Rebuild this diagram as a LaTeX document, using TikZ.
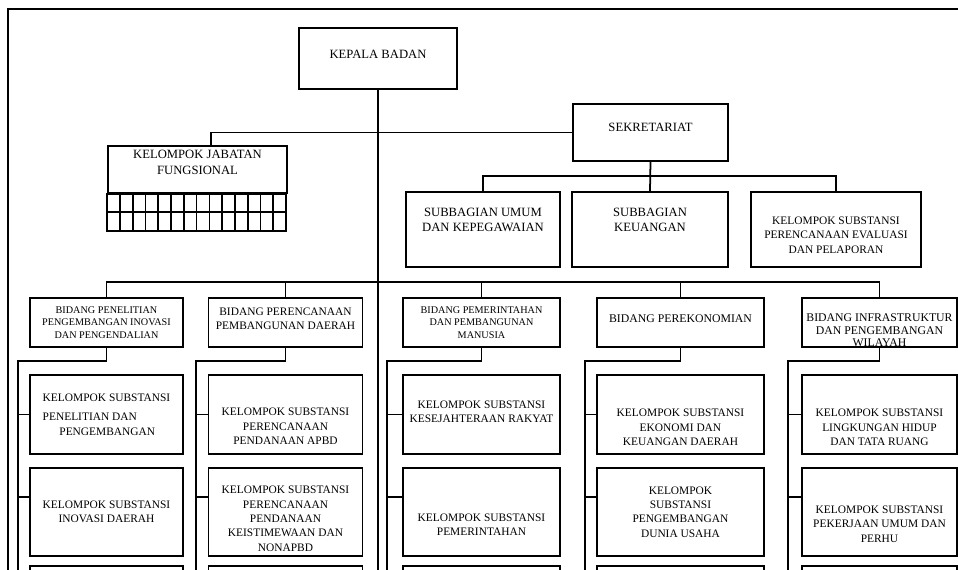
\documentclass[tikz,border=0pt]{standalone}
\usepackage{fontspec}
\setmainfont{Liberation Serif}
\newcommand{\txtdn}[1]{\rule{0pt}{#1pt}}
\newcommand{\txtup}[1]{\rule[-#1pt]{0pt}{0pt}}

\begin{document}
\begin{tikzpicture}[x=0.02cm, y=-0.02cm,
    box/.style={draw, line width=1pt, align=center, inner sep=1pt},
    line/.style={line width=1pt},
    big/.style={font=\fontsize{7.2}{9}\selectfont},
    mid/.style={font=\fontsize{6.5}{8.2}\selectfont},
    small/.style={font=\fontsize{5.8}{7.1}\selectfont}]
    \path[use as bounding box] (0,0) rectangle (958,569);
    \clip (0,0) rectangle (958,569);

    \draw[line] (958,9) -- (8,9) -- (8,575);

    \node[box, big, minimum width=3.16cm, minimum height=1.22cm] (kepala) at (378,58.5) {KEPALA BADAN\txtup{5}};
    \node[box, big, minimum width=3.1cm, minimum height=1.14cm] (sekretariat) at (650.5,132.5) {SEKRETARIAT\txtup{6}};
    \node[box, big, minimum width=3.58cm, minimum height=0.94cm] (jabatan) at (197.5,169.5) {KELOMPOK JABATAN\\FUNGSIONAL\txtup{8}};

    \node[box, big, minimum width=3.08cm, minimum height=1.5cm] (umum) at (483,229.5) {SUBBAGIAN UMUM\\DAN KEPEGAWAIAN\txtup{11}};
    \node[box, big, minimum width=3.12cm, minimum height=1.5cm] (keuangan) at (650,229.5) {SUBBAGIAN\\KEUANGAN\txtup{11}};
    \node[box, mid, minimum width=3.4cm, minimum height=1.5cm] (evaluasi) at (836,229.5) {\txtdn{10.5}KELOMPOK SUBSTANSI\\PERENCANAAN EVALUASI\\DAN PELAPORAN};

    \node[box, small, minimum width=3.06cm, minimum height=0.98cm] (b1) at (106.5,322.5) {BIDANG PENELITIAN\\PENGEMBANGAN INOVASI\\DAN PENGENDALIAN};
    \node[box, mid, minimum width=3.08cm, minimum height=0.98cm] (b2) at (285.5,322.5) {BIDANG PERENCANAAN\\PEMBANGUNAN DAERAH\txtup{4.5}};
    \node[box, small, minimum width=3.14cm, minimum height=0.98cm] (b3) at (481.5,322.5) {BIDANG PEMERINTAHAN\\DAN PEMBANGUNAN\\MANUSIA};
    \node[box, font=\fontsize{6.7}{8.4}\selectfont, minimum width=3.34cm, minimum height=0.98cm] (b4) at (680.5,322.5) {BIDANG PEREKONOMIAN\txtup{4}};
    \node[box, minimum width=3.1cm, minimum height=0.98cm,
      label={[font=\fontsize{6.7}{7.1}\selectfont, align=center, yshift=-0.16cm]center:{BIDANG INFRASTRUKTUR\\DAN PENGEMBANGAN\\WILAYAH}}] (b5) at (879.5,322.5) {};

    \node[box, mid, align=left, minimum width=3.06cm, minimum height=1.58cm] (r1c1) at (106.5,414.5) {KELOMPOK SUBSTANSI\\[3pt]PENELITIAN DAN\\\hspace*{9.5pt}PENGEMBANGAN};
    \node[box, mid, minimum width=3.08cm, minimum height=1.58cm] (r1c2) at (285.5,414.5) {\txtdn{18}KELOMPOK SUBSTANSI\\PERENCANAAN\\PENDANAAN APBD};
    \node[box, mid, minimum width=3.14cm, minimum height=1.58cm] (r1c3) at (481.5,414.5) {KELOMPOK SUBSTANSI\\KESEJAHTERAAN RAKYAT\txtup{3.5}};
    \node[box, mid, minimum width=3.34cm, minimum height=1.58cm] (r1c4) at (680.5,414.5) {\txtdn{19}KELOMPOK SUBSTANSI\\EKONOMI DAN\\KEUANGAN DAERAH};
    \node[box, mid, minimum width=3.1cm, minimum height=1.58cm] (r1c5) at (879.5,414.5) {\txtdn{19}KELOMPOK SUBSTANSI\\LINGKUNGAN HIDUP\\DAN TATA RUANG};

    \node[box, mid, minimum width=3.06cm, minimum height=1.76cm] (r2c1) at (106.5,512) {KELOMPOK SUBSTANSI\\INOVASI DAERAH};
    \node[box, mid, minimum width=3.08cm, minimum height=1.76cm] (r2c2) at (285.5,512) {\txtdn{12}KELOMPOK SUBSTANSI\\PERENCANAAN\\PENDANAAN\\KEISTIMEWAAN DAN\\NONAPBD};
    \node[box, mid, minimum width=3.14cm, minimum height=1.76cm] (r2c3) at (481.5,512) {\txtdn{19}KELOMPOK SUBSTANSI\\PEMERINTAHAN};
    \node[box, mid, minimum width=3.34cm, minimum height=1.76cm] (r2c4) at (680.5,512) {KELOMPOK\\SUBSTANSI\\PENGEMBANGAN\\DUNIA USAHA};
    \node[box, mid, minimum width=3.1cm, minimum height=1.76cm] (r2c5) at (879.5,512) {\txtdn{18}KELOMPOK SUBSTANSI\\PEKERJAAN UMUM DAN\\PERHU};

    \node[box, minimum width=3.06cm, minimum height=1.6cm] (r3c1) at (106.5,606) {};
    \node[box, minimum width=3.08cm, minimum height=1.6cm] (r3c2) at (285.5,606) {};
    \node[box, minimum width=3.14cm, minimum height=1.6cm] (r3c3) at (481.5,606) {};
    \node[box, minimum width=3.34cm, minimum height=1.6cm] (r3c4) at (680.5,606) {};
    \node[box, minimum width=3.1cm, minimum height=1.6cm] (r3c5) at (879.5,606) {};

    \draw[line] (jabatan.south west) rectangle ++(179,37);
    \draw[line] ([yshift=-0.37cm]jabatan.south west) -- ++(179,0);
    \foreach \i in {1,...,13}
        \draw[line] ([xshift=\i*0.2557cm]jabatan.south west) -- ++(0,37);

    \coordinate (foot) at (0,575);
    \coordinate (v1) at (18,575);
    \coordinate (v2) at (196,575);
    \coordinate (v3) at (387,575);
    \coordinate (v4) at (585,575);
    \coordinate (v5) at (788,575);

    \draw[line] (kepala.south) -- (kepala.south |- foot);
    \draw[line] (sekretariat.west) -| ([xshift=0.27cm]jabatan.north);
    \draw[line] (sekretariat.south) -- (keuangan.north);
    \draw[line] (umum.north) -- ++(0,-15) -| (evaluasi.north);
    \draw[line] (b1.north) -- ++(0,-15) -| (b5.north);
    \foreach \b in {b2,b3,b4}
        \draw[line] (\b.north) -- ++(0,-15);

    \foreach \k in {1,...,5} {
        \draw[line] (b\k.south) -- ++(0,13) -| (v\k);
        \draw[line] (v\k |- r1c\k.west) -- (r1c\k.west);
        \draw[line] ([yshift=0.3cm]r2c\k.west -| v\k) -- ([yshift=0.3cm]r2c\k.west);
    }
\end{tikzpicture}
\end{document}
